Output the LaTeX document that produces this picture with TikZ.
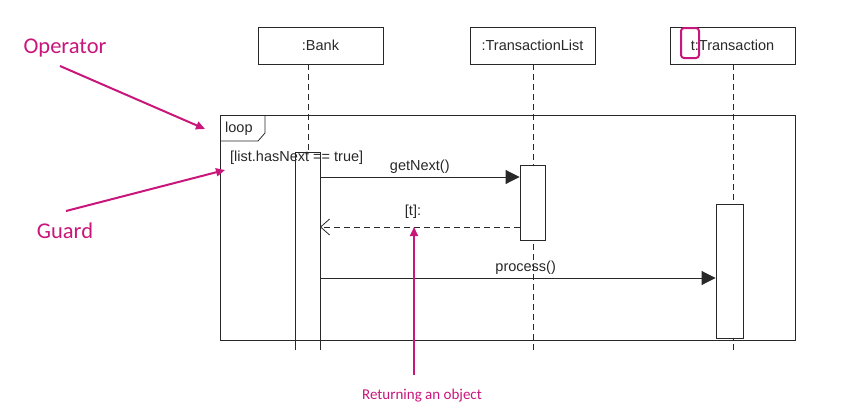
\documentclass[tikz,border=0pt]{standalone}
\usepackage{fontspec}
\setmainfont{Liberation Sans}
\newfontfamily\annfont{Carlito}
\usetikzlibrary{arrows.meta}
\definecolor{mag}{RGB}{200,22,122}
\definecolor{ln}{RGB}{40,40,40}
\tikzset{
  objbox/.style={draw=ln, line width=0.9pt, minimum width=125pt, minimum height=37pt, inner sep=0pt, font=\fontsize{14.5}{16}\selectfont, text=ln},
  life/.style={draw=ln, dashed, dash pattern=on 6pt off 4pt, line width=0.8pt},
  act/.style={draw=ln, fill=white, line width=0.9pt},
  msg/.style={draw=ln, line width=0.9pt, -{Triangle[length=14pt,width=14pt]}},
  ret/.style={draw=ln, line width=0.8pt, dash pattern=on 6pt off 4pt, -{Straight Barb[length=9pt,width=16pt,line width=0.8pt]}},
  lbl/.style={font=\fontsize{14.5}{16}\selectfont, text=ln, inner sep=1pt},
  ann/.style={font=\annfont\fontsize{22.5}{24}\selectfont, text=mag},
  annarrow/.style={draw=mag, line width=2pt, -{Triangle[length=9pt,width=8pt]}},
}
\begin{document}
\begin{tikzpicture}[x=1pt,y=-1pt]
\useasboundingbox (0,0) rectangle (858,407);
% objects
\node[objbox] (bank) at (320.5,45.5) {:Bank};
\node[objbox] (tlist) at (532.5,45.5) {:TransactionList};
\node[objbox] (trans) at (732.5,45.5) {t:Transaction};
% lifelines
\coordinate (bankA) at (308,152);
\coordinate (tlistEnd) at (533,350);
\coordinate (transEnd) at (733,350);
\draw[life] (308,64) -- (bankA);
\draw[life] (533,64) -- (tlistEnd);
\draw[life] (733,64) -- (transEnd);
% loop frame
\draw[draw=ln, line width=0.9pt] (220,115) rectangle (795,340);
\draw[draw=ln, line width=0.8pt] (220,141) -- (258,141) -- (265,133) -- (265,115);
\node[lbl, anchor=west] (loop) at (224,129) {loop};
% activations
\draw[draw=ln, line width=0.9pt] (295,350) -- (295,152) -- (320,152) -- (320,350);
\node[lbl, anchor=west] (guard) at (229,158) {[list.hasNext == true]};
\node[act, minimum width=25pt, minimum height=75pt, inner sep=0pt] (tlA) at (532.5,202.5) {};
\node[act, minimum width=27pt, minimum height=134pt, inner sep=0pt] (trA) at (729.5,271) {};
% messages
\coordinate (m1s) at (320,177);
\coordinate (m2e) at (320,227);
\coordinate (m3s) at (320,278);
\draw[msg] (m1s) -- (m1s -| tlA.west) node[lbl, midway, above=2pt] (l1) {getNext()};
\draw[ret] (m2e -| tlA.west) -- (m2e);
\node[lbl, anchor=south] (l2) at (413,220) {[t]:};
\draw[msg] (m3s) -- (m3s -| trA.west) node[lbl, pos=0.52, above=2pt] (l3) {process()};
% annotations
\node[ann] (op) at (65,48) {Operator};
\node[ann] (gd) at (65,231) {Guard};
\node[ann, font=\annfont\fontsize{15}{17}\selectfont] (ro) at (422,396) {Returning an object};
\draw[annarrow] (60,66) -- (205,129);
\draw[annarrow] (66,211) -- (225,170);
\draw[annarrow] (414,375) -- (414,227);
\draw[draw=mag, line width=2pt, rounded corners=3pt] (681,28) rectangle (699,58);
\end{tikzpicture}
\end{document}
